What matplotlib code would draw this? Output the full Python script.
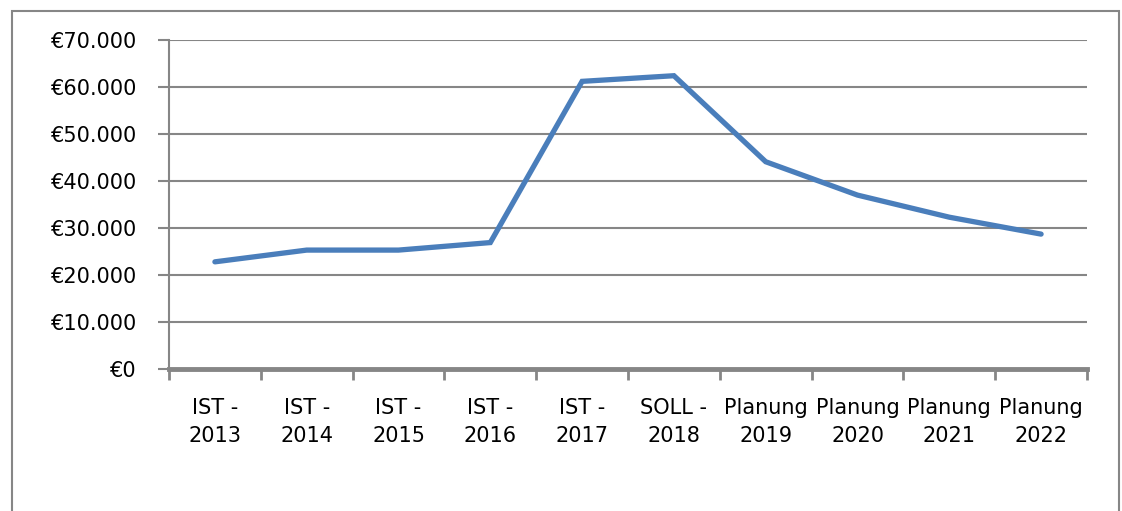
import matplotlib
matplotlib.use('Agg')
import matplotlib.pyplot as plt
from matplotlib.patches import Rectangle
from matplotlib.ticker import FuncFormatter, FixedLocator

# data
categories = ['IST -\n2013', 'IST -\n2014', 'IST -\n2015', 'IST -\n2016', 'IST -\n2017',
              'SOLL -\n2018', 'Planung\n2019', 'Planung\n2020', 'Planung\n2021', 'Planung\n2022']
values = [22800, 25300, 25300, 26900, 61200, 62400, 44100, 37000, 32300, 28700]
y_ticks = [0, 10000, 20000, 30000, 40000, 50000, 60000, 70000]

W, H = 1122, 511
grey = '#868686'

fig = plt.figure(figsize=(W / 100, H / 100), dpi=100)
ax = fig.add_axes([169 / W, 1 - 369 / H, (1087 - 169) / W, (369 - 40) / H])

# outer border of the chart object (bottom edge runs off the picture)
fig.patches.append(Rectangle((12 / W, -0.1), (1119 - 12) / W, 1.1 - 11 / H,
                             transform=fig.transFigure, fill=False,
                             edgecolor=grey, linewidth=1.5))

x = list(range(len(categories)))
ax.plot(x, values, color='#4A7EBB', linewidth=3.8, solid_capstyle='round',
        solid_joinstyle='miter', zorder=3)

ax.set_xlim(-0.5, len(categories) - 0.5)
ax.set_ylim(0, 70000)
ax.set_yticks(y_ticks)
ax.yaxis.set_major_formatter(FuncFormatter(lambda v, p: '€' + f'{int(v):,}'.replace(',', '.')))
ax.grid(axis='y', color=grey, linewidth=1.5, zorder=1)

# category labels at centres, tick marks at the boundaries
ax.set_xticks(x)
ax.set_xticklabels(categories, fontsize=15, linespacing=1.5)
ax.xaxis.set_minor_locator(FixedLocator([i - 0.5 for i in range(len(categories) + 1)]))
ax.tick_params(axis='x', which='major', length=0, pad=21)
ax.tick_params(axis='x', which='minor', length=8, width=2, color=grey, direction='out')
ax.tick_params(axis='y', length=8, width=1.5, color=grey, labelsize=15, pad=15)

for s in ['top', 'right']:
    ax.spines[s].set_visible(False)
ax.spines['left'].set_color(grey)
ax.spines['left'].set_linewidth(1.5)
ax.spines['bottom'].set_color(grey)
ax.spines['bottom'].set_linewidth(3.5)
ax.spines['bottom'].set_zorder(4)

fig.savefig('out.png', dpi=100)
